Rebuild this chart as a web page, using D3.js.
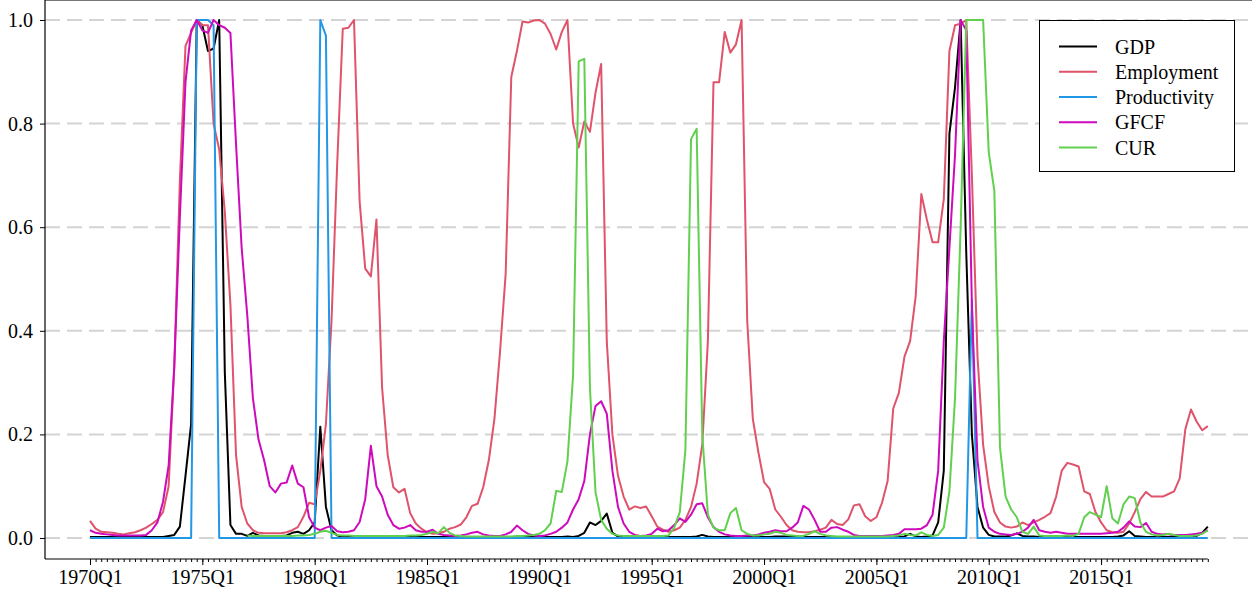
<!DOCTYPE html>
<html>
<head>
<meta charset="utf-8">
<script src="https://cdn.jsdelivr.net/npm/d3@7"></script>
<style>
html,body{margin:0;padding:0;background:#fff;}
svg{display:block;}
svg text{font-family:"Liberation Serif","DejaVu Serif","Times New Roman",serif;}
</style>
</head>
<body>
<svg id="chart" width="1252" height="591"></svg>
<script>
// ---------- DATA ----------
const startYear = 1970;
const nQuarters = 200;
const quarters = d3.range(nQuarters).map(i => (startYear + Math.floor(i / 4)) + "Q" + (i % 4 + 1));
const tickLabels = ["1970Q1","1975Q1","1980Q1","1985Q1","1990Q1","1995Q1","2000Q1","2005Q1","2010Q1","2015Q1"];
const yTicks = [0, 0.2, 0.4, 0.6, 0.8, 1.0];
const seriesNames = ["GDP","Employment","Productivity","GFCF","CUR"];
const seriesColors = ["#000000","#DF536B","#2297E6","#CD0BBC","#61D04F"];

const gdp = [
0.002,0.002,0.002,0.002,0.002,0.002,0.002,0.002,0.002,0.002,0.002,0.002,0.002,0.002,0.004,0.006,0.022,0.12,0.22,1.0,
0.99,0.94,0.945,1.0,0.32,0.025,0.008,0.008,0.004,0.01,0.005,0.004,0.004,0.003,0.004,0.005,0.01,0.012,0.008,0.015,
0.03,0.215,0.06,0.015,0.005,0.002,0.002,0.002,0.002,0.002,0.003,0.002,0.002,0.002,0.002,0.002,0.002,0.002,0.002,0.002,
0.002,0.002,0.002,0.002,0.002,0.002,0.002,0.002,0.002,0.002,0.002,0.002,0.002,0.002,0.002,0.002,0.002,0.002,0.002,0.002,
0.002,0.002,0.002,0.002,0.002,0.003,0.002,0.004,0.01,0.03,0.025,0.033,0.047,0.01,0.003,0.002,0.002,0.002,0.002,0.002,
0.002,0.002,0.002,0.002,0.002,0.002,0.002,0.002,0.003,0.006,0.003,0.002,0.002,0.002,0.002,0.002,0.002,0.002,0.002,0.002,
0.002,0.002,0.003,0.003,0.003,0.002,0.002,0.002,0.002,0.002,0.002,0.002,0.002,0.002,0.002,0.002,0.002,0.002,0.002,0.002,
0.002,0.002,0.002,0.002,0.002,0.003,0.008,0.003,0.002,0.003,0.005,0.03,0.13,0.78,0.87,1.0,0.55,0.2,0.06,0.02,
0.006,0.003,0.003,0.003,0.005,0.009,0.004,0.003,0.003,0.002,0.002,0.002,0.002,0.002,0.002,0.002,0.002,0.002,0.002,0.002,
0.002,0.002,0.002,0.003,0.005,0.013,0.004,0.003,0.002,0.002,0.002,0.002,0.002,0.003,0.002,0.002,0.002,0.004,0.01,0.022
];
const employment = [
0.033,0.018,0.012,0.011,0.01,0.008,0.007,0.009,0.011,0.015,0.02,0.027,0.035,0.05,0.1,0.33,0.69,0.95,0.975,1.0,
0.99,0.99,0.8,0.75,0.63,0.45,0.16,0.06,0.028,0.015,0.01,0.009,0.009,0.009,0.009,0.011,0.015,0.021,0.041,0.068,
0.065,0.13,0.22,0.42,0.72,0.983,0.985,1.0,0.65,0.52,0.505,0.615,0.29,0.16,0.098,0.088,0.095,0.048,0.028,0.018,
0.011,0.008,0.009,0.012,0.018,0.021,0.026,0.04,0.062,0.066,0.098,0.15,0.23,0.36,0.51,0.89,0.94,0.997,0.995,0.999,
1.0,0.993,0.973,0.943,0.977,1.0,0.8,0.754,0.804,0.784,0.86,0.915,0.38,0.2,0.12,0.08,0.055,0.061,0.058,0.061,
0.042,0.022,0.016,0.012,0.015,0.02,0.035,0.06,0.105,0.18,0.38,0.88,0.88,0.977,0.937,0.953,1.0,0.42,0.23,0.165,
0.108,0.095,0.055,0.041,0.025,0.015,0.012,0.011,0.011,0.013,0.016,0.02,0.035,0.027,0.025,0.036,0.063,0.065,0.042,0.033,
0.04,0.068,0.11,0.25,0.28,0.35,0.38,0.467,0.664,0.614,0.571,0.571,0.654,0.94,0.99,0.993,1.0,0.7,0.35,0.18,
0.1,0.05,0.03,0.022,0.02,0.022,0.03,0.025,0.03,0.035,0.041,0.048,0.08,0.13,0.145,0.142,0.138,0.09,0.085,0.05,
0.03,0.015,0.011,0.01,0.012,0.028,0.05,0.075,0.089,0.08,0.08,0.08,0.085,0.09,0.115,0.21,0.248,0.225,0.208,0.216
];
const productivity = [
0,0,0,0,0,0,0,0,0,0,0,0,0,0,0,0,0,0,0,1.0,
1.0,1.0,0.99,0,0,0,0,0,0,0,0,0,0,0,0,0,0,0,0,0,
0,1.0,0.97,0,0,0,0,0,0,0,0,0,0,0,0,0,0,0,0,0,
0,0,0,0,0,0,0,0,0,0,0,0,0,0,0,0,0,0,0,0,
0,0,0,0,0,0,0,0,0,0,0,0,0,0,0,0,0,0,0,0,
0,0,0,0,0,0,0,0,0,0,0,0,0,0,0,0,0,0,0,0,
0,0,0,0,0,0,0,0,0,0,0,0,0,0,0,0,0,0,0,0,
0,0,0,0,0,0,0,0,0,0,0,0,0,0,0,0,0,0.46,0,0,
0,0,0,0,0,0,0,0,0,0,0,0,0,0,0,0,0,0,0,0,
0,0,0,0,0,0,0,0,0,0,0,0,0,0,0,0,0,0,0,0
];
const gfcf = [
0.015,0.01,0.008,0.007,0.006,0.005,0.005,0.005,0.005,0.005,0.006,0.015,0.03,0.07,0.14,0.33,0.62,0.88,0.98,1.0,
0.98,0.975,1.0,0.99,0.985,0.975,0.76,0.56,0.43,0.27,0.19,0.15,0.1,0.088,0.105,0.107,0.14,0.105,0.098,0.04,
0.02,0.015,0.02,0.023,0.013,0.011,0.012,0.015,0.031,0.075,0.178,0.1,0.08,0.045,0.025,0.018,0.02,0.025,0.015,0.012,
0.012,0.016,0.008,0.006,0.005,0.004,0.005,0.007,0.01,0.012,0.007,0.005,0.004,0.004,0.007,0.012,0.024,0.015,0.008,0.005,
0.004,0.005,0.008,0.012,0.02,0.03,0.055,0.075,0.11,0.2,0.255,0.264,0.24,0.13,0.06,0.028,0.012,0.006,0.004,0.005,
0.008,0.018,0.013,0.015,0.025,0.038,0.031,0.045,0.065,0.067,0.04,0.021,0.012,0.007,0.005,0.004,0.004,0.005,0.005,0.007,
0.01,0.012,0.015,0.013,0.013,0.02,0.03,0.062,0.055,0.035,0.012,0.012,0.02,0.021,0.016,0.012,0.006,0.004,0.004,0.004,
0.004,0.004,0.005,0.006,0.008,0.017,0.017,0.017,0.018,0.025,0.045,0.13,0.38,0.56,0.74,1.0,0.98,0.45,0.15,0.06,
0.02,0.012,0.008,0.007,0.006,0.008,0.012,0.02,0.035,0.015,0.012,0.01,0.012,0.01,0.008,0.008,0.008,0.008,0.008,0.008,
0.008,0.009,0.01,0.012,0.02,0.032,0.022,0.021,0.029,0.012,0.008,0.007,0.007,0.006,0.006,0.006,0.007,0.008,0.01,0.015
];
const cur = [
null,null,null,null,null,null,null,null,null,null,null,null,null,null,null,null,null,null,null,null,
null,null,null,null,null,null,null,null,0.005,0.004,0.004,0.004,0.004,0.004,0.004,0.004,0.004,0.005,0.005,0.006,
0.008,0.012,0.014,0.01,0.006,0.005,0.005,0.004,0.004,0.004,0.004,0.004,0.004,0.004,0.004,0.004,0.004,0.005,0.005,0.006,
0.008,0.012,0.009,0.021,0.01,0.005,0.004,0.003,0.003,0.003,0.003,0.003,0.003,0.003,0.003,0.003,0.004,0.004,0.005,0.006,
0.008,0.015,0.028,0.091,0.089,0.148,0.314,0.92,0.925,0.29,0.088,0.035,0.018,0.008,0.005,0.004,0.004,0.004,0.004,0.004,
0.004,0.004,0.004,0.005,0.02,0.05,0.17,0.77,0.79,0.2,0.045,0.02,0.015,0.015,0.048,0.058,0.015,0.008,0.005,0.005,
0.007,0.008,0.012,0.01,0.006,0.005,0.004,0.004,0.008,0.013,0.008,0.005,0.004,0.003,0.003,0.003,0.003,0.003,0.003,0.003,
0.003,0.003,0.003,0.004,0.005,0.008,0.006,0.005,0.011,0.006,0.004,0.006,0.02,0.09,0.27,0.6,1.0,1.0,1.0,1.0,
0.745,0.67,0.175,0.08,0.055,0.04,0.012,0.008,0.022,0.005,0.004,0.004,0.004,0.004,0.005,0.004,0.008,0.04,0.05,0.045,
0.04,0.1,0.038,0.028,0.065,0.08,0.077,0.03,0.012,0.007,0.005,0.006,0.008,0.006,0.004,0.004,0.004,0.005,0.008,0.015
];
const seriesValues = [gdp, employment, productivity, gfcf, cur];

// ---------- LAYOUT ----------
const W = 1252, H = 591;
const plotLeft = 45, plotRight = 1252, axisY = 559;
const svg = d3.select("#chart");
const fontStack = '"Liberation Serif","DejaVu Serif","Times New Roman",serif';

const x = d3.scaleLinear().domain([0, nQuarters - 1]).range([90, 1207.8]);
const y = d3.scaleLinear().domain([0, 1]).range([538, 20]);

// gridlines
svg.append("g").selectAll("line").data(yTicks).join("line")
  .attr("x1", plotLeft).attr("x2", plotRight)
  .attr("y1", d => y(d)).attr("y2", d => y(d))
  .attr("stroke", "#d4d4d4").attr("stroke-width", 2)
  .attr("stroke-dasharray", "15,7");

// top border
svg.append("line").attr("x1", plotLeft).attr("x2", W).attr("y1", 0.5).attr("y2", 0.5)
  .attr("stroke", "#777").attr("stroke-width", 1);

// series lines
const line = d3.line()
  .defined(d => d != null)
  .x((d, i) => x(i))
  .y(d => y(d));

svg.append("g").selectAll("path").data(seriesValues).join("path")
  .attr("d", d => line(d))
  .attr("fill", "none")
  .attr("stroke", (d, i) => seriesColors[i])
  .attr("stroke-width", 2)
  .attr("stroke-linejoin", "round");

// y axis
const yAxis = d3.axisLeft(y).tickValues(yTicks).tickFormat(d3.format(".1f")).tickSize(5).tickPadding(7);
const gy = svg.append("g").attr("transform", `translate(${plotLeft},0)`).call(yAxis);
gy.attr("font-family", null).attr("font-size", null);
gy.select(".domain").remove();
gy.selectAll("text").style("font-family", fontStack).style("font-size", "20px").attr("fill", "#000");
gy.selectAll("line").attr("stroke", "#000");
svg.append("line").attr("x1", plotLeft).attr("x2", plotLeft).attr("y1", 0).attr("y2", axisY)
  .attr("stroke", "#000").attr("stroke-width", 1.2);

// x axis
const majorIdx = tickLabels.map(l => quarters.indexOf(l));
const gxMinor = svg.append("g").attr("transform", `translate(0,${axisY})`)
  .call(d3.axisBottom(x).tickValues(d3.range(nQuarters)).tickSize(3).tickFormat(""));
gxMinor.select(".domain").remove();
const gx = svg.append("g").attr("transform", `translate(0,${axisY})`)
  .call(d3.axisBottom(x).tickValues(majorIdx).tickSize(6).tickPadding(5).tickFormat(i => quarters[i]));
gx.attr("font-family", null).attr("font-size", null);
gx.select(".domain").remove();
gx.selectAll("text").style("font-family", fontStack).style("font-size", "20px").attr("fill", "#000");
svg.selectAll(".tick line").attr("stroke", "#000");
svg.append("line").attr("x1", plotLeft).attr("x2", x(nQuarters - 1)).attr("y1", axisY).attr("y2", axisY)
  .attr("stroke", "#000").attr("stroke-width", 1.2);

// legend
const lg = svg.append("g");
lg.append("rect").attr("x", 1039.5).attr("y", 20.5).attr("width", 195).attr("height", 151)
  .attr("fill", "#fff").attr("stroke", "#000").attr("stroke-width", 1);
const rowY = d3.scaleLinear().domain([0, 4]).range([46.5, 147.5]);
seriesNames.forEach((n, i) => {
  lg.append("line").attr("x1", 1059).attr("x2", 1097).attr("y1", rowY(i)).attr("y2", rowY(i))
    .attr("stroke", seriesColors[i]).attr("stroke-width", 2);
  lg.append("text").attr("x", 1115).attr("y", rowY(i)).attr("dy", "0.35em")
    .style("font-family", fontStack).style("font-size", "20px").text(n);
});
</script>
</body>
</html>
